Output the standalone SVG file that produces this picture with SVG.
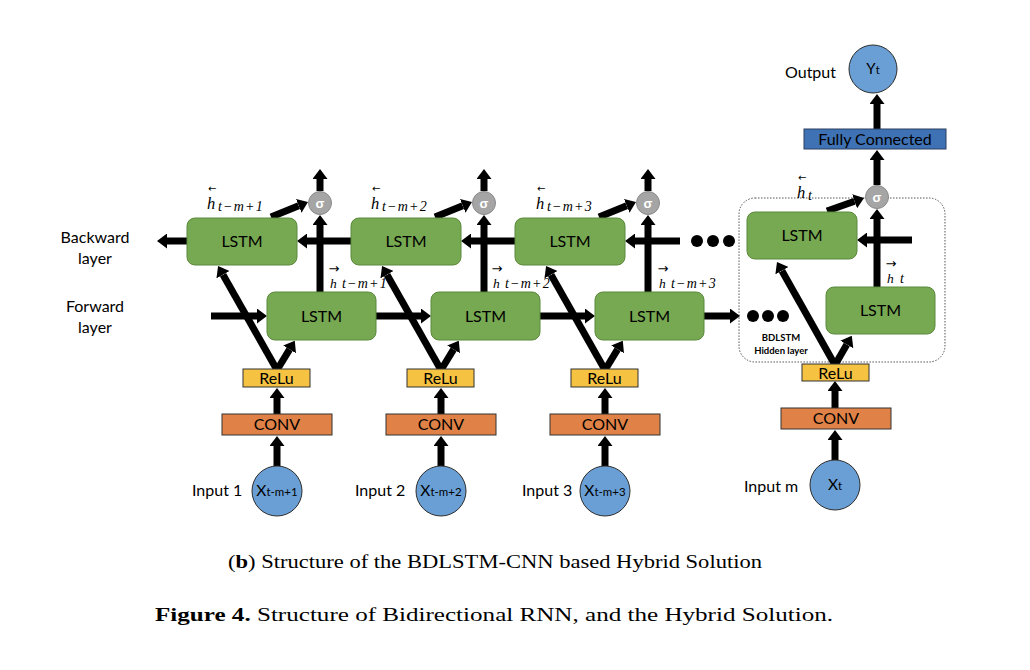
<svg xmlns="http://www.w3.org/2000/svg" width="1030" height="670" viewBox="0 0 1030 670">
<style>
.bg{fill:#fff}
.lstm{fill:#77a852;stroke:#5b8a3a;stroke-width:1}
.relu{fill:#f5c242;stroke:#333;stroke-width:1}
.conv{fill:#e08247;stroke:#333;stroke-width:1}
.inp{fill:#6a9fd5;stroke:#2d2d2d;stroke-width:1}
.fc{fill:#3f72b4;stroke:#2a3f60;stroke-width:1}
.sig{fill:#a5a5a5;stroke:#8a8a8a;stroke-width:1}
.dot{fill:#000}
.t{font-family:Lato,"Liberation Sans",sans-serif;fill:#000}
.lab{font-family:Lato,"Liberation Sans",sans-serif;font-size:16px;fill:#000}
.sg{font-family:"Liberation Sans",sans-serif;font-size:13px;font-weight:bold;fill:#fff}
.m{font-family:"Liberation Serif","DejaVu Serif",serif;font-style:italic;fill:#000}
.ar{font-family:"DejaVu Sans",sans-serif;font-style:normal}
.sb{font-size:14px;letter-spacing:1.2px}
.cap{font-family:"Liberation Serif",serif;font-size:18px;fill:#000}
.c line{stroke:#000;stroke-width:7;marker-end:url(#h)}
</style>
<defs>
<marker id="h" markerUnits="userSpaceOnUse" viewBox="0 0 10 15" markerWidth="10" markerHeight="15" refX="0" refY="7.5" orient="auto">
<path d="M0,0 L10,7.5 L0,15 z" fill="#000"/>
</marker>
</defs>
<rect class="bg" x="0" y="0" width="1030" height="670"/>

<g id="hidden-box">
<rect x="739" y="198" width="206" height="164" rx="16" fill="none" stroke="#555" stroke-width="1" stroke-dasharray="1.5 1.5"/>
<text class="t" x="781" y="341" font-size="9.5" font-weight="bold" text-anchor="middle">BDLSTM</text>
<text class="t" x="781" y="354" font-size="9.5" font-weight="bold" text-anchor="middle">Hidden layer</text>
</g>

<g id="connectors" class="c">
<!-- unit 1 -->
<line x1="277" y1="466" x2="277" y2="446"/>
<line x1="277" y1="414" x2="277" y2="398"/>
<line x1="277" y1="370" x2="289.6" y2="349.4"/>
<line x1="277" y1="370" x2="223" y2="274.7"/>
<line x1="211" y1="316" x2="257" y2="316"/>
<line x1="320" y1="292" x2="320" y2="225"/>
<line x1="320" y1="191" x2="320" y2="179"/>
<line x1="187" y1="241" x2="167" y2="241"/>
<line x1="271" y1="217" x2="298.7" y2="205.8"/>
<!-- unit 2 -->
<line x1="441" y1="466" x2="441" y2="446"/>
<line x1="441" y1="414" x2="441" y2="398"/>
<line x1="441" y1="370" x2="453.6" y2="349.4"/>
<line x1="441" y1="370" x2="387" y2="274.7"/>
<line x1="376" y1="316" x2="421" y2="316"/>
<line x1="484" y1="292" x2="484" y2="225"/>
<line x1="484" y1="191" x2="484" y2="179"/>
<line x1="351" y1="241" x2="307" y2="241"/>
<line x1="435" y1="217" x2="462.7" y2="205.8"/>
<!-- unit 3 -->
<line x1="605" y1="466" x2="605" y2="446"/>
<line x1="605" y1="414" x2="605" y2="398"/>
<line x1="605" y1="370" x2="617.6" y2="349.4"/>
<line x1="605" y1="370" x2="551" y2="274.7"/>
<line x1="540" y1="316" x2="585" y2="316"/>
<line x1="648" y1="292" x2="648" y2="225"/>
<line x1="648" y1="191" x2="648" y2="179"/>
<line x1="515" y1="241" x2="471" y2="241"/>
<line x1="599" y1="217" x2="626.7" y2="205.8"/>
<line x1="680" y1="241" x2="635" y2="241"/>
<line x1="704" y1="316" x2="730" y2="316"/>
<!-- last unit -->
<line x1="835" y1="460" x2="835" y2="440"/>
<line x1="835" y1="408" x2="835" y2="391"/>
<line x1="835" y1="365" x2="846.8" y2="344.5"/>
<line x1="835" y1="365" x2="781.9" y2="270.7"/>
<line x1="912" y1="240" x2="867" y2="240"/>
<line x1="877" y1="287" x2="877" y2="219"/>
<line x1="827" y1="211" x2="854.6" y2="201.3"/>
<line x1="877" y1="185" x2="877" y2="160"/>
<line x1="877" y1="129" x2="877" y2="104"/>
</g>

<g id="dots-backward">
<circle class="dot" cx="697" cy="241" r="6"/>
<circle class="dot" cx="713" cy="241" r="6"/>
<circle class="dot" cx="729" cy="241" r="6"/>
</g>
<g id="dots-forward">
<circle class="dot" cx="753" cy="316" r="6"/>
<circle class="dot" cx="768" cy="316" r="6"/>
<circle class="dot" cx="783" cy="316" r="6"/>
</g>

<g id="layer-labels">
<text class="lab" x="95" y="243" text-anchor="middle">Backward</text>
<text class="lab" x="95" y="264" text-anchor="middle">layer</text>
<text class="lab" x="95" y="312" text-anchor="middle">Forward</text>
<text class="lab" x="95" y="333" text-anchor="middle">layer</text>
</g>

<!-- Unit 1 -->
<g id="bw-lstm-1"><rect class="lstm" x="187" y="218" width="110" height="47" rx="8"/><text class="lab" x="242" y="247" text-anchor="middle">LSTM</text></g>
<g id="fw-lstm-1"><rect class="lstm" x="267" y="292" width="109" height="48" rx="8"/><text class="lab" x="321.5" y="321.5" text-anchor="middle">LSTM</text></g>
<g id="sigma-1"><circle class="sig" cx="320" cy="203" r="11.5"/><text class="sg" x="320" y="207.5" text-anchor="middle">σ</text></g>
<g id="relu-1"><rect class="relu" x="243" y="369" width="67" height="18"/><text class="lab" x="276.5" y="384" text-anchor="middle">ReLu</text></g>
<g id="conv-1"><rect class="conv" x="222" y="414" width="110" height="21"/><text class="lab" x="277" y="430" text-anchor="middle">CONV</text></g>
<g id="input-1"><circle class="inp" cx="277" cy="491" r="25"/><text class="t" x="277" y="496" text-anchor="middle"><tspan font-size="15.5">X</tspan><tspan font-size="11.5">t-m+1</tspan></text><text class="lab" x="192" y="496">Input 1</text></g>
<g id="hb-label-1"><text class="m"><tspan class="ar" x="208" y="192" font-size="10">←</tspan><tspan x="207" y="209" font-size="16.5">h</tspan><tspan class="sb" x="218" y="211" letter-spacing="1.4">t−m+1</tspan></text></g>
<g id="hf-label-1"><text class="m"><tspan class="ar" x="328.5" y="272.5" font-size="13">→</tspan><tspan x="330" y="288" font-size="13.5">h</tspan><tspan class="sb" x="342" y="288">t−m+1</tspan></text></g>

<!-- Unit 2 -->
<g id="bw-lstm-2"><rect class="lstm" x="351" y="218" width="110" height="47" rx="8"/><text class="lab" x="406" y="247" text-anchor="middle">LSTM</text></g>
<g id="fw-lstm-2"><rect class="lstm" x="431" y="292" width="109" height="48" rx="8"/><text class="lab" x="485.5" y="321.5" text-anchor="middle">LSTM</text></g>
<g id="sigma-2"><circle class="sig" cx="484" cy="203" r="11.5"/><text class="sg" x="484" y="207.5" text-anchor="middle">σ</text></g>
<g id="relu-2"><rect class="relu" x="407" y="369" width="67" height="18"/><text class="lab" x="440.5" y="384" text-anchor="middle">ReLu</text></g>
<g id="conv-2"><rect class="conv" x="386" y="414" width="110" height="21"/><text class="lab" x="441" y="430" text-anchor="middle">CONV</text></g>
<g id="input-2"><circle class="inp" cx="441" cy="491" r="25"/><text class="t" x="441" y="496" text-anchor="middle"><tspan font-size="15.5">X</tspan><tspan font-size="11.5">t-m+2</tspan></text><text class="lab" x="355" y="496">Input 2</text></g>
<g id="hb-label-2"><text class="m"><tspan class="ar" x="372" y="192" font-size="10">←</tspan><tspan x="371" y="209" font-size="16.5">h</tspan><tspan class="sb" x="382" y="211" letter-spacing="1.4">t−m+2</tspan></text></g>
<g id="hf-label-2"><text class="m"><tspan class="ar" x="491.5" y="272.5" font-size="13">→</tspan><tspan x="493" y="288" font-size="13.5">h</tspan><tspan class="sb" x="505" y="288">t−m+2</tspan></text></g>

<!-- Unit 3 -->
<g id="bw-lstm-3"><rect class="lstm" x="515" y="218" width="110" height="47" rx="8"/><text class="lab" x="570" y="247" text-anchor="middle">LSTM</text></g>
<g id="fw-lstm-3"><rect class="lstm" x="595" y="292" width="109" height="48" rx="8"/><text class="lab" x="649.5" y="321.5" text-anchor="middle">LSTM</text></g>
<g id="sigma-3"><circle class="sig" cx="648" cy="203" r="11.5"/><text class="sg" x="648" y="207.5" text-anchor="middle">σ</text></g>
<g id="relu-3"><rect class="relu" x="571" y="369" width="67" height="18"/><text class="lab" x="604.5" y="384" text-anchor="middle">ReLu</text></g>
<g id="conv-3"><rect class="conv" x="550" y="414" width="110" height="21"/><text class="lab" x="605" y="430" text-anchor="middle">CONV</text></g>
<g id="input-3"><circle class="inp" cx="605" cy="491" r="25"/><text class="t" x="605" y="496" text-anchor="middle"><tspan font-size="15.5">X</tspan><tspan font-size="11.5">t-m+3</tspan></text><text class="lab" x="522" y="496">Input 3</text></g>
<g id="hb-label-3"><text class="m"><tspan class="ar" x="537" y="192" font-size="10">←</tspan><tspan x="536" y="209" font-size="16.5">h</tspan><tspan class="sb" x="547" y="211" letter-spacing="1.4">t−m+3</tspan></text></g>
<g id="hf-label-3"><text class="m"><tspan class="ar" x="657.5" y="272.5" font-size="13">→</tspan><tspan x="659" y="288" font-size="13.5">h</tspan><tspan class="sb" x="671" y="288">t−m+3</tspan></text></g>

<!-- Last unit -->
<g id="bw-lstm-t"><rect class="lstm" x="747" y="212" width="110" height="47" rx="8"/><text class="lab" x="802" y="241" text-anchor="middle">LSTM</text></g>
<g id="fw-lstm-t"><rect class="lstm" x="826" y="287" width="109" height="47" rx="8"/><text class="lab" x="880.5" y="316" text-anchor="middle">LSTM</text></g>
<g id="sigma-t"><circle class="sig" cx="877" cy="197" r="11.5"/><text class="sg" x="877" y="201.5" text-anchor="middle">σ</text></g>
<g id="relu-t"><rect class="relu" x="802" y="364" width="67" height="17"/><text class="lab" x="835.5" y="378.5" text-anchor="middle">ReLu</text></g>
<g id="conv-t"><rect class="conv" x="781" y="408" width="110" height="21"/><text class="lab" x="836" y="424" text-anchor="middle">CONV</text></g>
<g id="input-t"><circle class="inp" cx="835" cy="485" r="25"/><text class="t" x="835" y="490" text-anchor="middle"><tspan font-size="15.5">X</tspan><tspan font-size="11.5">t</tspan></text><text class="lab" x="744" y="492">Input m</text></g>
<g id="hb-label-t"><text class="m"><tspan class="ar" x="798" y="181" font-size="10">←</tspan><tspan x="797" y="198" font-size="16.5">h</tspan><tspan class="sb" x="808" y="200">t</tspan></text></g>
<g id="hf-label-t"><text class="m"><tspan class="ar" x="885.5" y="267.5" font-size="13">→</tspan><tspan x="887" y="283" font-size="13.5">h</tspan><tspan class="sb" x="900" y="283">t</tspan></text></g>
<g id="fully-connected"><rect class="fc" x="804" y="129" width="142" height="20"/><text class="lab" x="875" y="145" text-anchor="middle">Fully Connected</text></g>
<g id="output"><circle class="inp" cx="873" cy="69" r="24"/><text class="t" x="873" y="74" text-anchor="middle"><tspan font-size="15">Y</tspan><tspan font-size="11">t</tspan></text><text class="lab" x="836" y="78" text-anchor="end">Output</text></g>

<g id="captions">
<text class="cap" x="228" y="568" textLength="534" lengthAdjust="spacingAndGlyphs">(<tspan font-weight="bold">b</tspan>) Structure of the BDLSTM-CNN based Hybrid Solution</text>
<text class="cap" x="155" y="621" textLength="678" lengthAdjust="spacingAndGlyphs"><tspan font-weight="bold">Figure 4.</tspan> Structure of Bidirectional RNN, and the Hybrid Solution.</text>
</g>
</svg>
